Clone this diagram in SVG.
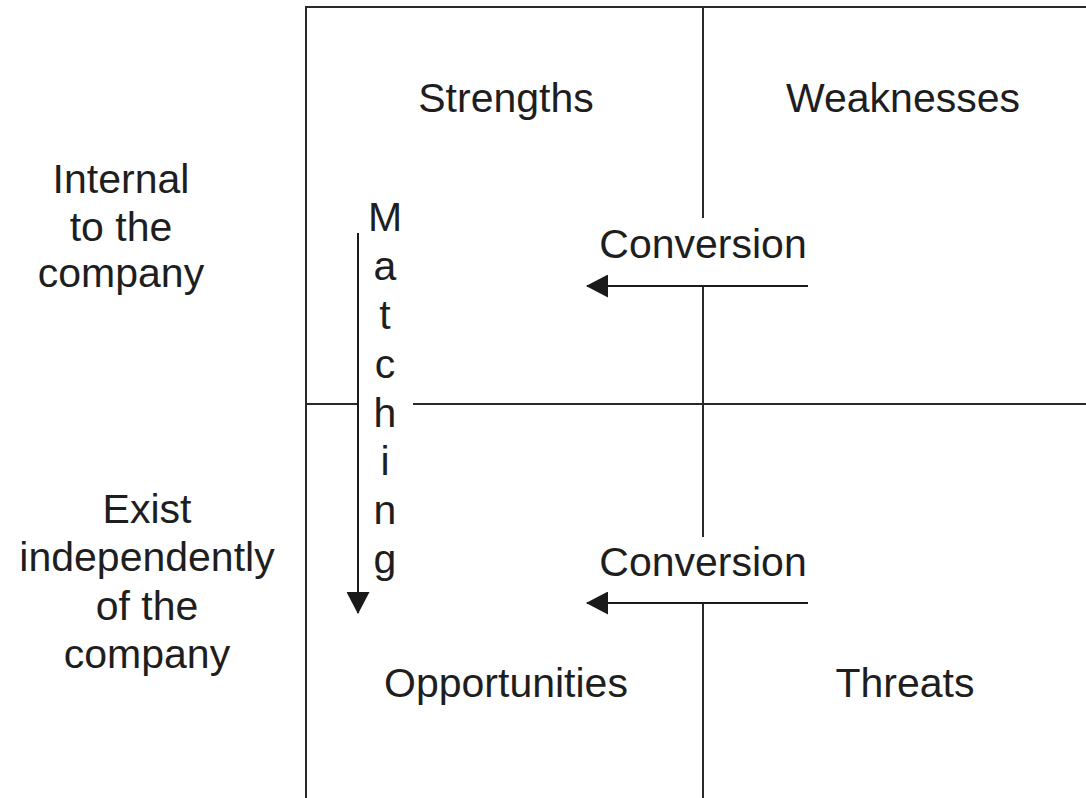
<svg xmlns="http://www.w3.org/2000/svg" width="1086" height="798" viewBox="0 0 1086 798">
  <style>
    .grid { stroke: #2a2a2a; stroke-width: 2; fill: none; }
    .conn { stroke: #1a1a1a; stroke-width: 2; fill: none; }
    text { font-family: "Liberation Sans", Arial, sans-serif; font-size: 41px; fill: #1e1e1e; text-anchor: middle; }
  </style>
  <defs>
    <marker id="head" viewBox="0 0 22 23" refX="21" refY="11.5" markerWidth="22" markerHeight="23" markerUnits="userSpaceOnUse" orient="auto">
      <path d="M0,0 L22,11.5 L0,23 Z" fill="#1a1a1a"/>
    </marker>
  </defs>
  <rect width="1086" height="798" fill="#ffffff"/>

  <!-- quadrant grid -->
  <g id="grid" class="grid">
    <line x1="306" y1="7" x2="1086" y2="7"/>
    <line x1="306" y1="6" x2="306" y2="798"/>
    <line x1="703" y1="7" x2="703" y2="218"/>
    <line x1="703" y1="286" x2="703" y2="537"/>
    <line x1="703" y1="603" x2="703" y2="798"/>
    <line x1="306" y1="404" x2="358" y2="404"/>
    <line x1="413" y1="404" x2="1086" y2="404"/>
  </g>

  <!-- row labels -->
  <g id="internal">
    <text x="121" y="193">Internal</text>
    <text x="121" y="241">to the</text>
    <text x="121" y="287">company</text>
  </g>
  <g id="external">
    <text x="147" y="523">Exist</text>
    <text x="147" y="571">independently</text>
    <text x="147" y="620">of the</text>
    <text x="147" y="668">company</text>
  </g>

  <!-- quadrants -->
  <g id="strengths"><text x="506" y="112">Strengths</text></g>
  <g id="weaknesses"><text x="903" y="112">Weaknesses</text></g>
  <g id="opportunities"><text x="506" y="697">Opportunities</text></g>
  <g id="threats"><text x="905" y="697">Threats</text></g>

  <!-- arrow labels -->
  <g id="matching-label">
    <text x="385" y="231">M</text>
    <text x="385" y="280">a</text>
    <text x="385" y="329">t</text>
    <text x="385" y="378">c</text>
    <text x="385" y="427">h</text>
    <text x="385" y="475">i</text>
    <text x="385" y="524">n</text>
    <text x="385" y="573">g</text>
  </g>
  <g id="conversion-top-label"><text x="703" y="258">Conversion</text></g>
  <g id="conversion-bottom-label"><text x="703" y="576">Conversion</text></g>

  <!-- connectors -->
  <g id="connectors" class="conn">
    <line x1="358" y1="233" x2="358" y2="613" marker-end="url(#head)"/>
    <line x1="808" y1="286" x2="587" y2="286" marker-end="url(#head)"/>
    <line x1="808" y1="603" x2="587" y2="603" marker-end="url(#head)"/>
  </g>
</svg>
